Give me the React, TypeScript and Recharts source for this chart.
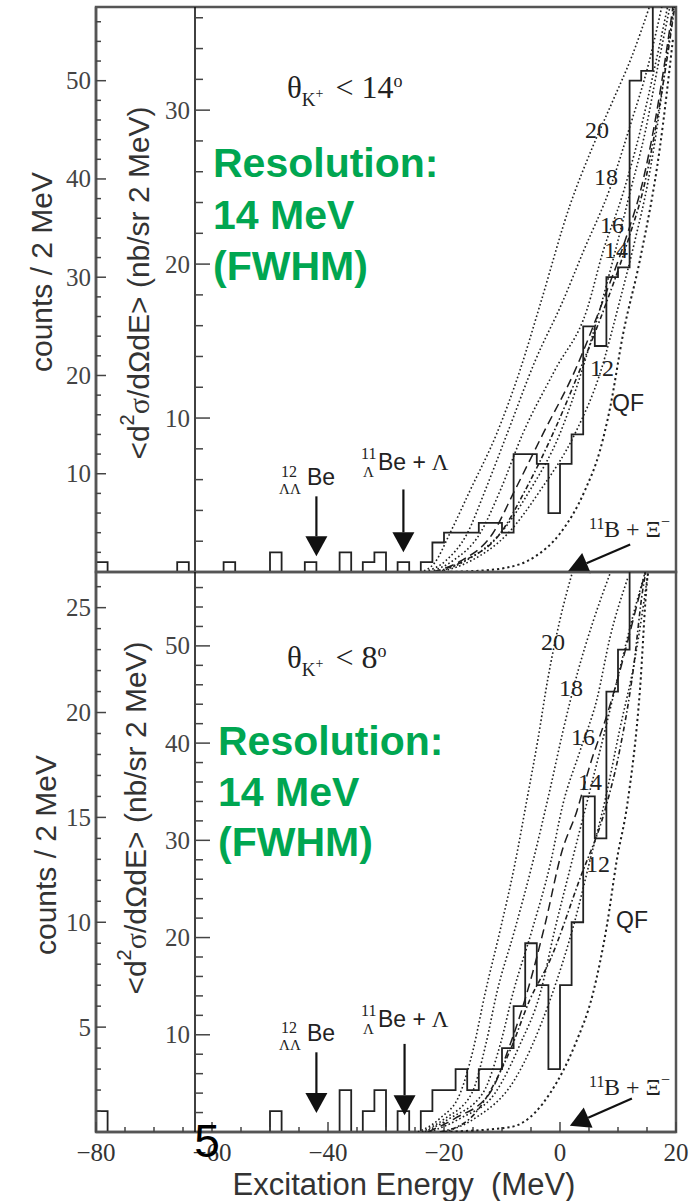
import React from 'react'
import { ComposedChart, Line, XAxis, YAxis, ReferenceArea, ReferenceLine } from 'recharts'

// page layout (px)
const W = 695
const H = 1201
const PLOT_L = 96
const PLOT_R = 676
const INNER_L = 195
const TOP_Y = 7
const MID = 572
const BOT = 1132

const E_MIN = -80
const E_MAX = 20
const BIN_W = 2
// energy sitting under the inner (cross-section) axis
const E_INNER = E_MIN + ((INNER_L - PLOT_L) * (E_MAX - E_MIN)) / (PLOT_R - PLOT_L)

const TOP_CNT_MAX = 57.5
const TOP_XS_MAX = 36.7
const BOT_CNT_MAX = 26.7
const BOT_XS_MAX = 57.6

const X_TICKS = [-80, -75, -70, -65, -60, -55, -50, -45, -40, -35, -30, -25, -20, -15, -10, -5, 0, 5, 10, 15, 20]
const X_MAJOR = [-80, -60, -40, -20, 0, 20]

const TOP_CNT_TICKS = [2, 4, 6, 8, 10, 12, 14, 16, 18, 20, 22, 24, 26, 28, 30, 32, 34, 36, 38, 40, 42, 44, 46, 48, 50, 52, 54, 56]
const TOP_CNT_MAJOR = [10, 20, 30, 40, 50]
const TOP_XS_TICKS = [2, 4, 6, 8, 10, 12, 14, 16, 18, 20, 22, 24, 26, 28, 30, 32, 34, 36]
const TOP_XS_MAJOR = [10, 20, 30]
const BOT_CNT_TICKS = [1, 2, 3, 4, 5, 6, 7, 8, 9, 10, 11, 12, 13, 14, 15, 16, 17, 18, 19, 20, 21, 22, 23, 24, 25, 26]
const BOT_CNT_MAJOR = [5, 10, 15, 20, 25]
const BOT_XS_TICKS = [2, 4, 6, 8, 10, 12, 14, 16, 18, 20, 22, 24, 26, 28, 30, 32, 34, 36, 38, 40, 42, 44, 46, 48, 50, 52, 54, 56]
const BOT_XS_MAJOR = [10, 20, 30, 40, 50]

// counts per 2 MeV bin, bins start at -80 MeV
const TOP_COUNTS = [
  1, 0, 0, 0, 0, 0, 0, 1, 0, 0,
  0, 1, 0, 0, 0, 2, 0, 0, 1, 0,
  0, 2, 0, 1, 2, 0, 1, 0, 1, 3,
  4, 4, 4, 5, 5, 4, 12, 12, 11, 6,
  11, 14, 25, 23, 30, 31, 50, 51, 62,
]
const BOT_COUNTS = [
  1, 0, 0, 0, 0, 0, 0, 0, 0, 0,
  0, 0, 0, 0, 0, 1, 0, 0, 0, 0,
  0, 2, 0, 1, 2, 0, 1, 0, 1, 2,
  2, 3, 2, 3, 3, 4, 6, 9, 7, 3,
  7, 10, 16, 14, 21, 23, 30,
]

// calculated spectra [E (MeV), cross section]
const TOP_C20 = [[-24.1, 0], [-21.6, 0.6], [-19.0, 2.5], [-15.5, 5.3], [-10.9, 9.0], [-6.9, 13.1], [-3.4, 17.4], [1.7, 23.8], [5.5, 27.5], [9.1, 30.6], [12.4, 33.5], [15.5, 36.8]]
const TOP_C18 = [[-23.3, 0], [-19.8, 0.7], [-16.0, 2.5], [-12.9, 5.3], [-9.1, 9.0], [-4.3, 13.7], [0.5, 17.6], [4.0, 20.8], [8.6, 24.9], [12.1, 29.0], [15.2, 32.9], [17.6, 36.8]]
const TOP_C16 = [[-22.4, 0], [-18.6, 0.7], [-13.8, 2.5], [-10.3, 5.3], [-6.4, 9.0], [-0.9, 13.1], [4.7, 17.1], [7.4, 20.8], [10.7, 24.4], [13.8, 28.6], [16.4, 32.9], [18.6, 36.8]]
const TOP_C14 = [[-21.0, 0], [-16.4, 0.7], [-10.3, 2.5], [-5.2, 5.3], [0, 9.0], [3.8, 13.1], [6.9, 17.1], [9.5, 20.8], [12.1, 24.7], [14.7, 28.6], [16.9, 32.9], [19.0, 36.8]]
const TOP_DASH = [[-22.1, 0], [-17.2, 0.7], [-11.6, 2.5], [-7.8, 5.3], [-2.9, 9.0], [2.6, 13.1], [7.4, 17.6], [11.2, 21.5], [14.3, 25.4], [16.4, 29.3], [18.1, 33.2], [19.5, 36.8]]
const TOP_DASHDOT = [[-21.4, 0], [-16.7, 0.7], [-10.3, 2.5], [-6.0, 5.3], [-1.2, 9.0], [3.4, 13.1], [8.1, 17.6], [11.7, 21.5], [14.7, 25.4], [16.7, 29.3], [18.4, 33.2], [19.8, 36.8]]
const TOP_C12 = [[-20.7, 0], [-15.5, 0.7], [-9.0, 2.5], [-3.4, 5.3], [2.6, 9.0], [6.9, 12.9], [10.3, 17.6], [12.9, 21.5], [15.2, 25.4], [16.9, 29.3], [18.3, 33.2], [19.7, 36.8]]
const TOP_QF = [[-20.7, 0], [-15.5, 0.05], [-9.5, 0.26], [-4.3, 1.0], [0, 2.5], [4.3, 5.3], [6.9, 7.9], [8.6, 10.6], [10.9, 15.5], [13.8, 20.3], [17.2, 27.5], [19.5, 34.7]]

const BOT_C20 = [[-24.5, 0], [-20.7, 1.4], [-17.2, 4.0], [-15.0, 8.4], [-12.9, 14.3], [-10.3, 20.8], [-7.8, 27.5], [-5.7, 34.2], [-3.8, 40.4], [-2.1, 46.6], [0, 52.7], [2.1, 57.5]]
const BOT_C18 = [[-23.8, 0], [-19.8, 1.4], [-15.2, 4.0], [-12.8, 9.0], [-10.9, 14.3], [-7.8, 20.8], [-4.8, 27.5], [-1.7, 35.3], [0.5, 41.2], [3.1, 47.4], [5.7, 52.5], [8.6, 57.4]]
const BOT_C16 = [[-23.3, 0], [-19.0, 1.4], [-13.3, 4.0], [-10.3, 9.0], [-8.1, 14.3], [-4.8, 20.8], [-1.7, 27.5], [0.5, 33.7], [3.4, 39.1], [6.4, 44.6], [8.6, 50.8], [11.7, 57.0]]
const BOT_C14 = [[-22.4, 0], [-17.2, 1.4], [-11.2, 4.0], [-6.9, 9.0], [-3.4, 14.3], [-0.9, 20.8], [1.7, 27.0], [5.2, 35.2], [7.8, 41.4], [10.3, 47.6], [12.9, 53.8], [14.7, 57.6]]
const BOT_DASH = [[-22.8, 0], [-18.1, 1.4], [-12.1, 4.0], [-8.6, 9.0], [-5.7, 14.3], [-2.6, 21.3], [0.3, 28.8], [2.9, 33.0], [5.2, 37.8], [8.1, 42.9], [9.8, 46.3], [13.3, 54.3], [14.7, 57.6]]
const BOT_DASHDOT = [[-20.7, 0], [-15.5, 1.4], [-8.6, 8.4], [-5.2, 13.6], [-1.7, 17.7], [3.4, 26.0], [7.8, 33.2], [10.3, 39.3], [12.6, 47.4], [14.3, 55.9], [14.8, 57.6]]
const BOT_C12 = [[-19.8, 0], [-14.7, 1.4], [-7.8, 5.4], [-1.7, 13.6], [2.6, 21.8], [5.2, 28.0], [7.8, 34.2], [10.3, 41.4], [12.9, 48.6], [15.2, 57.6]]
const BOT_QF = [[-20.7, 0], [-8.6, 0.5], [-4.3, 2.0], [-1.7, 4.0], [2.6, 9.0], [5.7, 14.3], [8.1, 21.3], [9.8, 28.0], [11.6, 33.7], [13.8, 45.6], [15.0, 56.6], [15.2, 57.6]]

// arrows [E, counts] tail -> tip
const TOP_ARROWS = [
  [[-42, 7.7], [-42, 1.6]],
  [[-27, 8.4], [-27, 2.0]],
  [[12.1, 2.8], [1.4, 0.1]],
]
const BOT_ARROWS = [
  [[-42, 3.8], [-42, 0.9]],
  [[-26.8, 4.2], [-26.8, 0.8]],
  [[12.4, 1.6], [1.7, 0.3]],
]

const GREEN = '#00A651'
const SANS = 'Liberation Sans, Arial, sans-serif'
const SERIF = 'Liberation Serif, Times New Roman, serif'

const DOT = { strokeDasharray: '1.6 2.4', strokeWidth: 1.6 }
const CURVE_STYLES = [
  DOT, DOT, DOT, DOT,
  { strokeDasharray: '9 5', strokeWidth: 1.5 },
  { strokeDasharray: '5 2.5 1.6 2.5', strokeWidth: 1.6 },
  DOT,
  { strokeDasharray: '2.2 3', strokeWidth: 2 },
]

const toSteps = (counts: number[]) => {
  const pts = counts.map((c, i) => ({ e: E_MIN + i * BIN_W, c }))
  pts.push({ e: E_MIN + counts.length * BIN_W, c: counts[counts.length - 1] })
  return pts
}
const toPts = (arr: number[][]) => arr.map(([e, s]) => ({ e, s }))
const fmt = (v: number) => (v < 0 ? `\u2212${-v}` : `${v}`)

const yTick = (majors: number[], majLen: number, minLen: number) => (p: any) => {
  const v = p.payload.value
  const maj = majors.includes(v)
  return (
    <g>
      <line x1={p.x} x2={p.x + (maj ? majLen : minLen)} y1={p.y} y2={p.y} stroke="#444" strokeWidth={1.5} />
      {maj && (
        <text x={p.x - 5} y={p.y} textAnchor="end" dominantBaseline="central" fontFamily={SERIF} fontSize={25} fill="#444">
          {v}
        </text>
      )}
    </g>
  )
}

const xTick = (labels: boolean) => (p: any) => {
  const v = p.payload.value
  const maj = X_MAJOR.includes(v)
  return (
    <g>
      <line x1={p.x} x2={p.x} y1={p.y} y2={p.y - (maj ? 10 : 5)} stroke="#444" strokeWidth={1.5} />
      {labels && maj && (
        <text x={p.x} y={p.y + 20} textAnchor="middle" dominantBaseline="central" fontFamily={SERIF} fontSize={25} fill="#333">
          {fmt(v)}
        </text>
      )}
    </g>
  )
}

const arrowShape = (p: any) => {
  const { x1, y1, x2, y2 } = p
  const a = Math.atan2(y2 - y1, x2 - x1)
  const len = 20
  const hw = 11
  const bx = x2 - len * Math.cos(a)
  const by = y2 - len * Math.sin(a)
  const px = -Math.sin(a) * hw
  const py = Math.cos(a) * hw
  return (
    <g>
      <line x1={x1} y1={y1} x2={bx} y2={by} stroke="#111" strokeWidth={2.2} />
      <polygon points={`${x2},${y2} ${bx + px},${by + py} ${bx - px},${by - py}`} fill="#111" />
    </g>
  )
}

function Panel({ top, height, margin, xHeight, labels, counts, cntMax, cntTicks, cntMajor, xsMax, xsTicks, xsMajor, curves, arrows }: any) {
  const steps = toSteps(counts)
  return (
    <div style={{ position: 'absolute', left: 0, top, width: W, height }}>
      <div style={{ position: 'absolute', left: 0, top: 0 }}>
        <ComposedChart width={W} height={height} data={steps} margin={margin}>
          <XAxis
            type="number"
            dataKey="e"
            domain={[E_MIN, E_MAX]}
            allowDataOverflow
            ticks={X_TICKS}
            interval={0}
            height={xHeight}
            tickSize={0}
            tickMargin={0}
            tickLine={false}
            axisLine={{ stroke: '#555', strokeWidth: 2.5 }}
            tick={xTick(labels)}
          />
          <YAxis
            type="number"
            width={PLOT_L}
            domain={[0, cntMax]}
            allowDataOverflow
            ticks={cntTicks}
            interval={0}
            tickSize={0}
            tickMargin={0}
            tickLine={false}
            axisLine={{ stroke: '#555', strokeWidth: 2.5 }}
            tick={yTick(cntMajor, 10, 5)}
          />
          <ReferenceArea x1={E_MIN} x2={E_MAX} y1={0} y2={cntMax} fill="none" fillOpacity={0} stroke="#555" strokeWidth={2.5} />
          <Line type="stepAfter" dataKey="c" stroke="#222" strokeWidth={1.8} dot={false} isAnimationActive={false} />
          {arrows.map((a: number[][], i: number) => (
            <ReferenceLine key={i} segment={[{ x: a[0][0], y: a[0][1] }, { x: a[1][0], y: a[1][1] }]} shape={arrowShape} ifOverflow="visible" />
          ))}
        </ComposedChart>
      </div>
      <div style={{ position: 'absolute', left: 0, top: 0 }}>
        <ComposedChart width={W} height={height} margin={{ ...margin, bottom: margin.bottom + xHeight }}>
          <XAxis type="number" dataKey="e" domain={[E_INNER, E_MAX]} allowDataOverflow hide />
          <YAxis
            type="number"
            width={INNER_L}
            domain={[0, xsMax]}
            allowDataOverflow
            ticks={xsTicks}
            interval={0}
            tickSize={0}
            tickMargin={0}
            tickLine={false}
            axisLine={{ stroke: '#111', strokeWidth: 1.6 }}
            tick={yTick(xsMajor, 15, 8)}
          />
          {curves.map((c: number[][], i: number) => (
            <Line
              key={i}
              data={toPts(c)}
              dataKey="s"
              type="monotone"
              stroke="#1e1e1e"
              fill="none"
              dot={false}
              isAnimationActive={false}
              {...CURVE_STYLES[i]}
            />
          ))}
        </ComposedChart>
      </div>
    </div>
  )
}

function Theta({ x, y, deg }: { x: number; y: number; deg: string }) {
  return (
    <text x={x} y={y} fontFamily={SERIF} fontSize={31} fill="#222">
      θ
      <tspan fontSize={19} dy={8}>K</tspan>
      <tspan fontSize={14} dy={-8}>+</tspan>
      <tspan fontSize={32} dx={4}>{` < ${deg}`}</tspan>
      <tspan fontSize={18} dy={-11}>o</tspan>
    </text>
  )
}

function Resolution({ x, ys }: { x: number; ys: number[] }) {
  const lines = ['Resolution:', '14 MeV', '(FWHM)']
  return (
    <g>
      {lines.map((t, i) => (
        <text key={t} x={x} y={ys[i]} fontFamily={SANS} fontWeight="bold" fontSize={41} fill={GREEN}>
          {t}
        </text>
      ))}
    </g>
  )
}

function CurveLabels({ pos }: { pos: number[][] }) {
  const names = ['20', '18', '16', '14', '12', 'QF']
  return (
    <g>
      {names.map((n, i) => (
        <text
          key={n}
          x={pos[i][0]}
          y={pos[i][1]}
          textAnchor="middle"
          dominantBaseline="central"
          fontFamily={n === 'QF' ? SANS : SERIF}
          fontSize={n === 'QF' ? 23 : 24}
          fill="#222"
        >
          {n}
        </text>
      ))}
    </g>
  )
}

function Annotations({ dy }: { dy: number[] }) {
  // baselines for the [ΛΛBe, ΛBe+Λ, B+Ξ] groups
  const [a, b, c] = dy
  return (
    <g fill="#222">
      <text x={281} y={a - 8} fontFamily={SERIF} fontSize={16}>12</text>
      <text x={279} y={a + 9} fontFamily={SERIF} fontSize={15}>ΛΛ</text>
      <text x={307} y={a} fontFamily={SANS} fontSize={23}>Be</text>

      <text x={361} y={b - 11} fontFamily={SERIF} fontSize={16}>11</text>
      <text x={363} y={b + 7} fontFamily={SERIF} fontSize={15}>Λ</text>
      <text x={378} y={b} fontFamily={SANS} fontSize={23}>
        Be +<tspan fontFamily={SERIF}> Λ</tspan>
      </text>

      <text x={589} y={c - 8} fontFamily={SERIF} fontSize={16}>11</text>
      <text x={604} y={c} fontFamily={SERIF} fontSize={24}>
        B + Ξ<tspan fontSize={16} dy={-10}>−</tspan>
      </text>
    </g>
  )
}

export default function App() {
  return (
    <div style={{ position: 'relative', width: W, height: H, background: '#fff', overflow: 'hidden' }}>
      <style>{'body{margin:0}'}</style>
      <Panel
        top={0}
        height={MID + 3}
        margin={{ top: TOP_Y, right: W - PLOT_R, bottom: 3, left: 0 }}
        xHeight={0}
        labels={false}
        counts={TOP_COUNTS}
        cntMax={TOP_CNT_MAX}
        cntTicks={TOP_CNT_TICKS}
        cntMajor={TOP_CNT_MAJOR}
        xsMax={TOP_XS_MAX}
        xsTicks={TOP_XS_TICKS}
        xsMajor={TOP_XS_MAJOR}
        curves={[TOP_C20, TOP_C18, TOP_C16, TOP_C14, TOP_DASH, TOP_DASHDOT, TOP_C12, TOP_QF]}
        arrows={TOP_ARROWS}
      />
      <Panel
        top={MID - 2}
        height={H - MID + 2}
        margin={{ top: 2, right: W - PLOT_R, bottom: 0, left: 0 }}
        xHeight={H - BOT}
        labels
        counts={BOT_COUNTS}
        cntMax={BOT_CNT_MAX}
        cntTicks={BOT_CNT_TICKS}
        cntMajor={BOT_CNT_MAJOR}
        xsMax={BOT_XS_MAX}
        xsTicks={BOT_XS_TICKS}
        xsMajor={BOT_XS_MAJOR}
        curves={[BOT_C20, BOT_C18, BOT_C16, BOT_C14, BOT_DASH, BOT_DASHDOT, BOT_C12, BOT_QF]}
        arrows={BOT_ARROWS}
      />
      <svg width={W} height={H} style={{ position: 'absolute', left: 0, top: 0, pointerEvents: 'none' }}>
        {/* axis titles */}
        <text transform="translate(41,272) rotate(-90)" textAnchor="middle" dominantBaseline="central" fontFamily={SANS} fontSize={30} fill="#333">
          counts / 2 MeV
        </text>
        <text transform="translate(138,283) rotate(-90)" textAnchor="middle" dominantBaseline="central" fontFamily={SANS} fontSize={30} fill="#333">
          {'<d'}
          <tspan fontSize={20} dy={-11}>2</tspan>
          <tspan fontFamily={SERIF} dy={11}>σ</tspan>
          {'/dΩdE> (nb/sr 2 MeV)'}
        </text>
        <text transform="translate(45,855) rotate(-90)" textAnchor="middle" dominantBaseline="central" fontFamily={SANS} fontSize={30} fill="#333">
          counts / 2 MeV
        </text>
        <text transform="translate(135,818) rotate(-90)" textAnchor="middle" dominantBaseline="central" fontFamily={SANS} fontSize={30} fill="#333">
          {'<d'}
          <tspan fontSize={20} dy={-11}>2</tspan>
          <tspan fontFamily={SERIF} dy={11}>σ</tspan>
          {'/dΩdE> (nb/sr 2 MeV)'}
        </text>
        <text x={404} y={1195} textAnchor="middle" fontFamily={SANS} fontSize={31} fill="#333" style={{ whiteSpace: 'pre' }}>
          {'Excitation Energy  (MeV)'}
        </text>

        <Theta x={287} y={98} deg="14" />
        <Theta x={287} y={668} deg="8" />

        <Resolution x={213} ys={[177, 229, 280]} />
        <Resolution x={218} ys={[755, 806, 856]} />

        <CurveLabels pos={[[597, 130], [606, 177], [612, 225], [616, 250], [602, 368], [628, 403]]} />
        <CurveLabels pos={[[553, 642], [571, 688], [583, 737], [590, 782], [598, 864], [632, 920]]} />

        <Annotations dy={[485, 470, 537]} />
        <Annotations dy={[1041, 1027, 1095]} />

        <text x={207} y={1157} textAnchor="middle" fontFamily={SANS} fontSize={46} fill="#000">
          5
        </text>
      </svg>
    </div>
  )
}
